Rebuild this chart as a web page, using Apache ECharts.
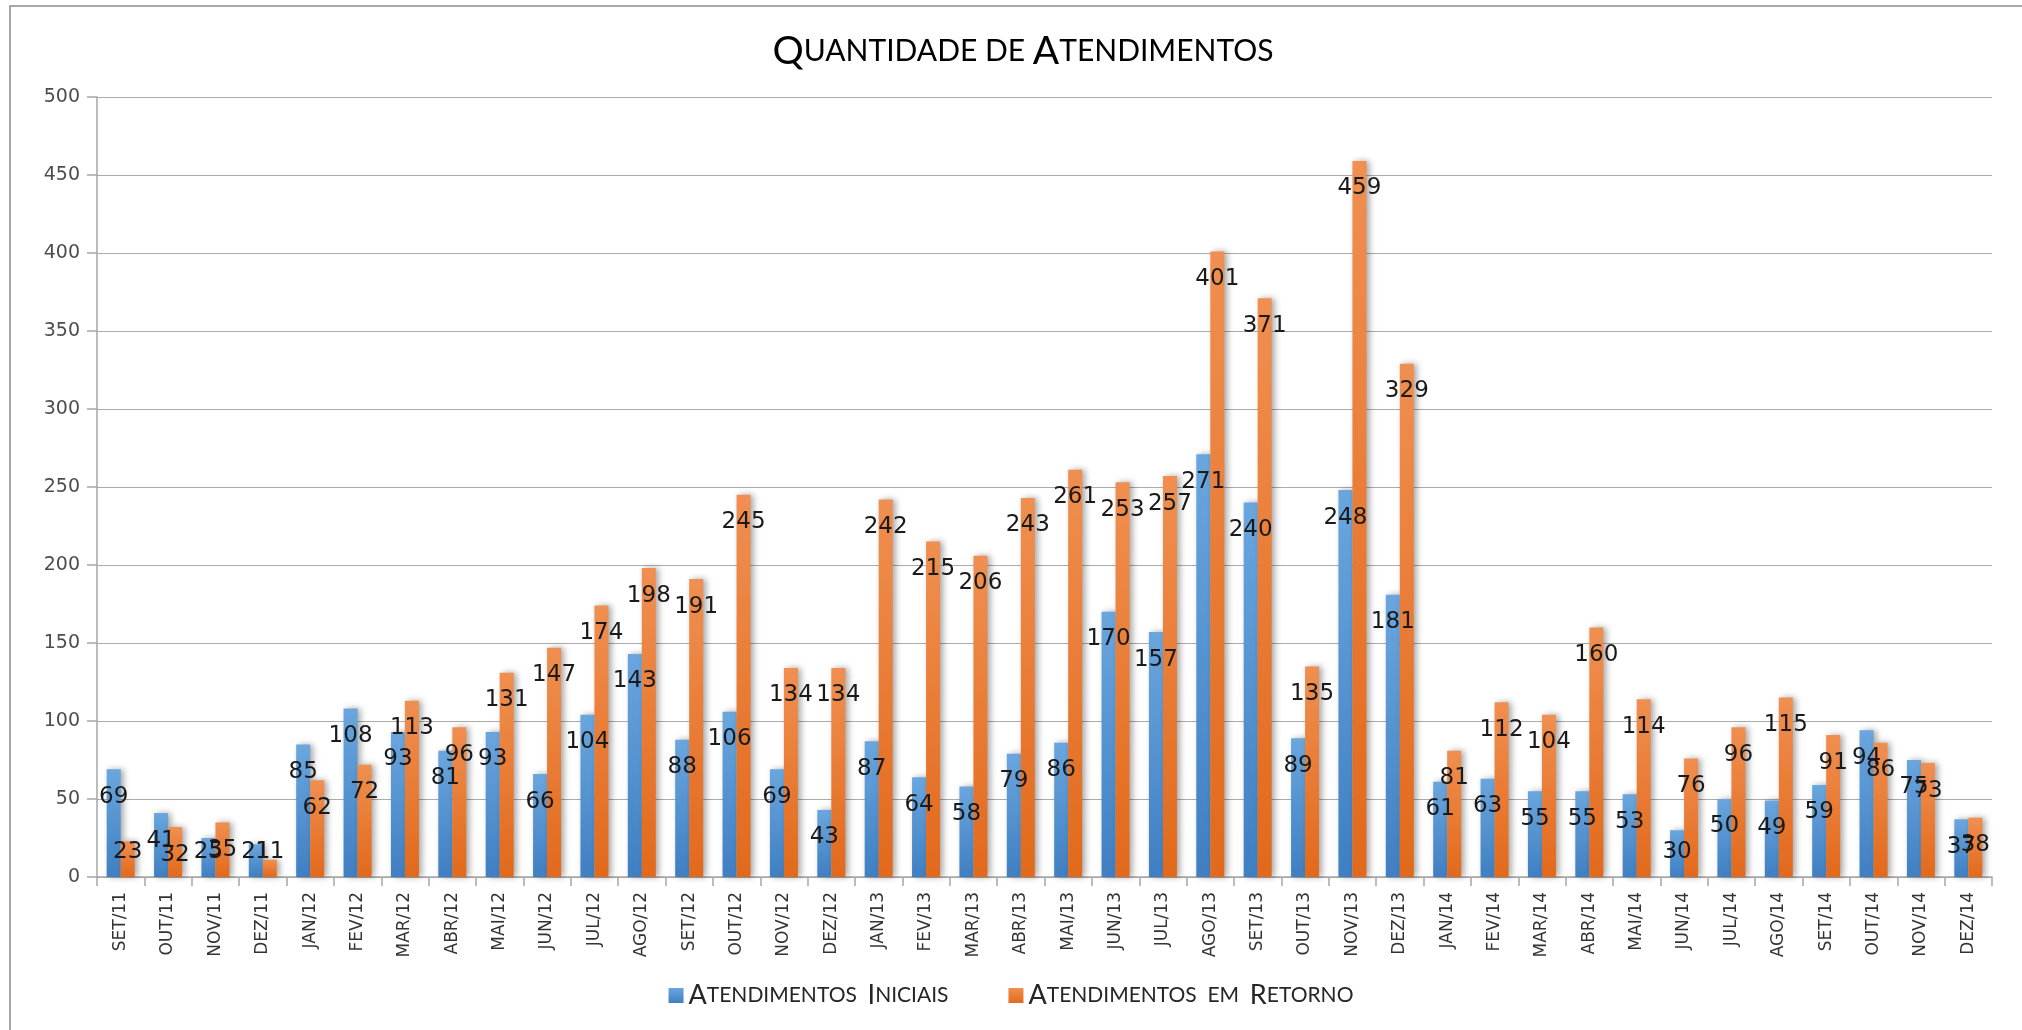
<!DOCTYPE html>
<html>
<head>
<meta charset="utf-8">
<script src="https://cdn.jsdelivr.net/npm/echarts@6/dist/echarts.min.js"></script>
<style>
html,body{margin:0;padding:0;background:#fff;}
#chart{width:2022px;height:1030px;}
</style>
</head>
<body>
<div id="chart"></div>
<script>
const categories = ['SET/11','OUT/11','NOV/11','DEZ/11',
  'JAN/12','FEV/12','MAR/12','ABR/12','MAI/12','JUN/12','JUL/12','AGO/12','SET/12','OUT/12','NOV/12','DEZ/12',
  'JAN/13','FEV/13','MAR/13','ABR/13','MAI/13','JUN/13','JUL/13','AGO/13','SET/13','OUT/13','NOV/13','DEZ/13',
  'JAN/14','FEV/14','MAR/14','ABR/14','MAI/14','JUN/14','JUL/14','AGO/14','SET/14','OUT/14','NOV/14','DEZ/14'];
const iniciais = [69,41,25,21, 85,108,93,81,93,66,104,143,88,106,69,43, 87,64,58,79,86,170,157,271,240,89,248,181, 61,63,55,55,53,30,50,49,59,94,75,37];
const retorno  = [23,32,35,11, 62,72,113,96,131,147,174,198,191,245,134,134, 242,215,206,243,261,253,257,401,371,135,459,329, 81,112,104,160,114,76,96,115,91,86,73,38];
const yMin = 0, yMax = 500, yStep = 50;

const chart = echarts.init(document.getElementById('chart'));

function items(vals){
  return vals.map(v => v < 32
    ? {value: v, label: {position: 'insideBottom', distance: 13}}
    : {value: v});
}
const labelStyle = {
  show: true, position: 'insideTop', distance: 16,
  fontFamily: 'DejaVu Sans', fontSize: 23, color: '#1a1a1a'
};
function grad(top, bottom){
  return new echarts.graphic.LinearGradient(0,0,0,1,[{offset:0,color:top},{offset:1,color:bottom}]);
}

const option = {
  backgroundColor: '#ffffff',
  animation: false,
  color: ['#5b9bd5', '#ed7d31'],
  title: {
    text: '{b|Q}{s|UANTIDADE DE }{b|A}{s|TENDIMENTOS}',
    left: 1018, top: 27, textAlign: 'center',
    textStyle: {
      fontWeight: 'normal',
      rich: {
        b: {fontFamily: 'Lato', fontSize: 39, fontWeight: 'normal', color: '#000'},
        s: {fontFamily: 'Lato', fontSize: 30, fontWeight: 'normal', color: '#000'}
      }
    }
  },
  legend: {
    bottom: 16, left: 'center',
    itemWidth: 15, itemHeight: 15, itemGap: 60,
    icon: 'rect',
    data: ['Atendimentos Iniciais', 'Atendimentos em Retorno'],
    formatter: function(name){
      if (name === 'Atendimentos Iniciais') return '{b|A}{s|TENDIMENTOS  }{b|I}{s|NICIAIS}';
      return '{b|A}{s|TENDIMENTOS  EM  }{b|R}{s|ETORNO}';
    },
    textStyle: {
      rich: {
        b: {fontFamily: 'Lato', fontSize: 27, color: '#262626'},
        s: {fontFamily: 'Lato', fontSize: 21, color: '#262626'}
      }
    }
  },
  grid: {left: 97, right: 30, top: 97, bottom: 153, containLabel: false, outerBoundsMode: 'none'},
  xAxis: {
    type: 'category', data: categories,
    axisLine: {show: true, lineStyle: {color: '#a6a6a6', width: 1.5}},
    axisTick: {show: true, length: 9, lineStyle: {color: '#a6a6a6', width: 1.5}},
    axisLabel: {rotate: 90, margin: 15, fontFamily: 'DejaVu Sans', fontSize: 17, color: '#333333', interval: 0}
  },
  yAxis: {
    type: 'value', min: yMin, max: yMax, interval: yStep,
    axisLine: {show: true, lineStyle: {color: '#a6a6a6', width: 1.5}},
    axisTick: {show: true, length: 10, lineStyle: {color: '#a6a6a6', width: 1.5}},
    splitLine: {show: true, lineStyle: {color: '#ababab', width: 1.2}},
    axisLabel: {margin: 17, fontFamily: 'DejaVu Sans', fontSize: 19, color: '#4d4d4d'}
  },
  series: [
    {
      name: 'Atendimentos Iniciais', type: 'bar', data: items(iniciais),
      barWidth: 14, barGap: '0%',
      itemStyle: {color: grad('#6aa6de', '#3f7fc2'), shadowColor: 'rgba(0,0,0,0.35)', shadowBlur: 6, shadowOffsetX: 3},
      label: labelStyle
    },
    {
      name: 'Atendimentos em Retorno', type: 'bar', data: items(retorno),
      barWidth: 14, barGap: '0%',
      itemStyle: {color: grad('#f08f50', '#e2691b'), shadowColor: 'rgba(0,0,0,0.35)', shadowBlur: 6, shadowOffsetX: 3},
      label: labelStyle
    }
  ],
  graphic: [{
    type: 'polyline', silent: true,
    shape: {points: [[10, 1030], [10, 6], [2022, 6]]},
    style: {stroke: '#8c8c8c', lineWidth: 1.5, fill: null}
  }]
};
chart.setOption(option);
</script>
</body>
</html>
